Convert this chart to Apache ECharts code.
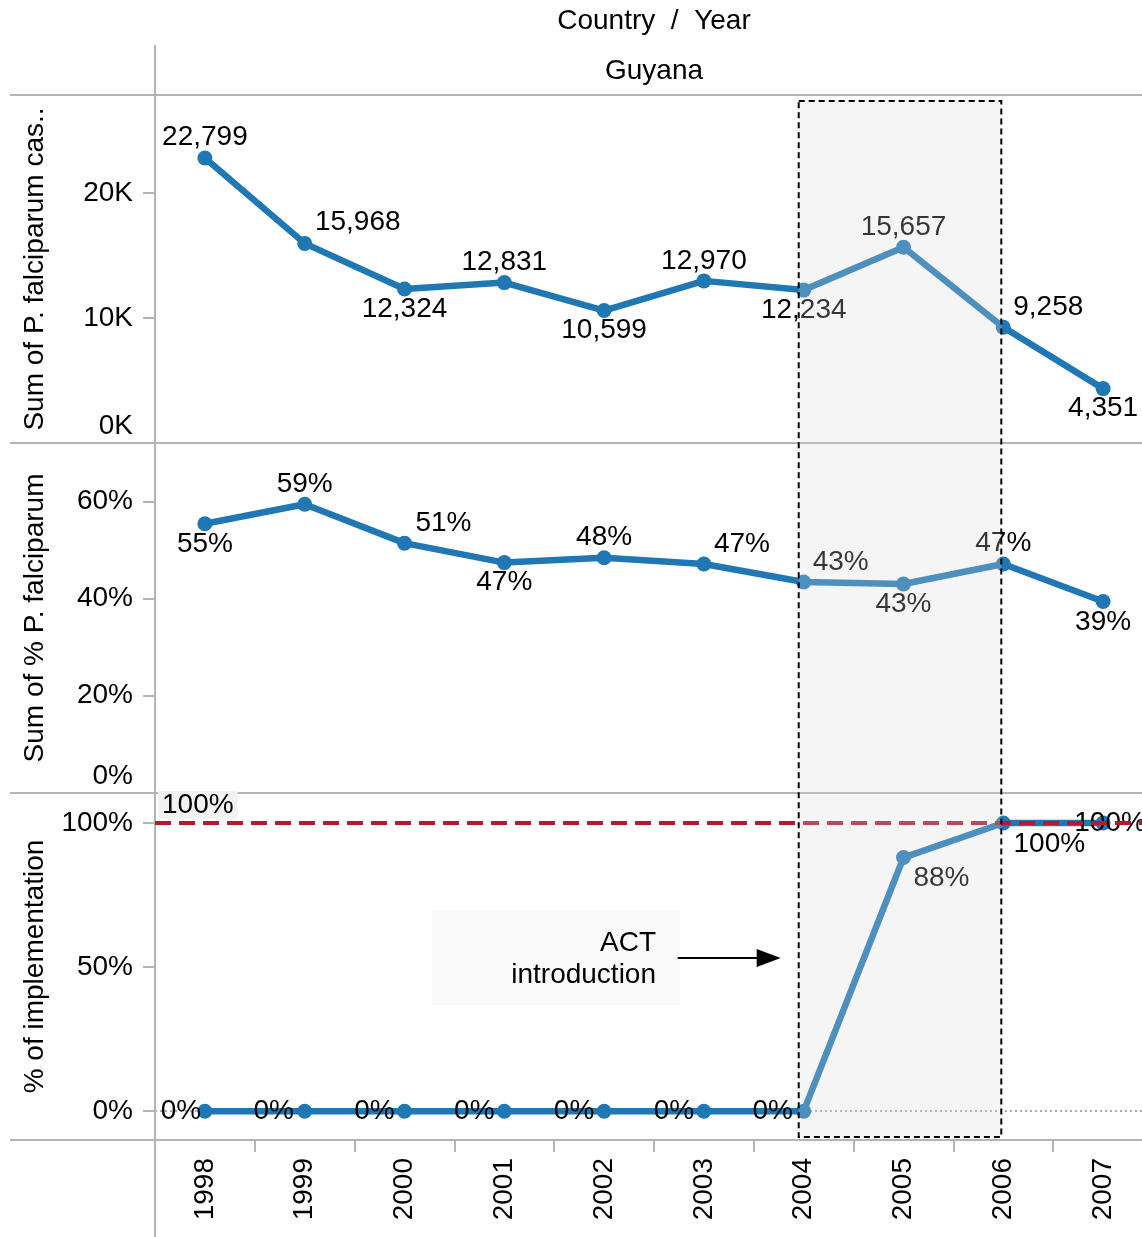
<!DOCTYPE html>
<html>
<head>
<meta charset="utf-8">
<script src="https://cdn.jsdelivr.net/npm/echarts@6/dist/echarts.min.js"></script>
<style>
html, body { margin: 0; padding: 0; background: #fff; }
#main { width: 1142px; height: 1237px; }
</style>
</head>
<body>
<div id="main"></div>
<script>
// 数据
var years = ['1998', '1999', '2000', '2001', '2002', '2003', '2004', '2005', '2006', '2007'];
var pfCases = [22799, 15968, 12324, 12831, 10599, 12970, 12234, 15657, 9258, 4351];
var pfPercent = [55.4, 59.4, 51.4, 47.4, 48.4, 47.1, 43.4, 43.0, 47.1, 39.4];
var implementation = [0, 0, 0, 0, 0, 0, 0, 88, 100, 100];
var casesTicks = [0, 10000, 20000];
var percentTicks = [0, 20, 40, 60];
var implTicks = [0, 50, 100];

// 标签偏移 (样式)
var casesLabelOffset = [[0, -21], [53, -21], [0, 20], [0, -20], [0, 20], [0, -20], [0, 20], [0, -20], [45, -20], [0, 20]];
var percentLabelOffset = [[0, 21], [0, -20], [39, -20], [0, 20], [0, -20], [38, -20], [37, -20], [0, 20], [0, -21], [0, 21]];
var implLabelOffset = [[-24, 0], [-31, 0], [-30, 0], [-30, 0], [-30, 0], [-30, 0], [-31, 0], [38, 21], [46, 21], [7, 0]];

var FONT = "'Liberation Sans', Arial, sans-serif";
var FS = 28;
var BLUE = '#1f77b4';
var GRAY = '#b4b4b4';

var mainObj = document.getElementById('main');
var chart = echarts.init(mainObj);

function withLabels(values, offsets) {
    return values.map(function (v, i) {
        return { value: v, label: { offset: offsets[i] } };
    });
}

function makeXAxis(idx, show) {
    return {
        gridIndex: idx,
        type: 'category',
        data: years,
        boundaryGap: true,
        show: show,
        axisLine: { show: false, onZero: false },
        axisTick: {
            show: true,
            length: 12,
            lineStyle: { color: GRAY, width: 2 }
        },
        axisLabel: {
            rotate: 90,
            margin: 18,
            fontSize: FS,
            color: '#000',
            fontFamily: FONT
        },
        splitLine: { show: false }
    };
}

function makeYAxis(idx, min, max, ticks, name, fmt) {
    return {
        gridIndex: idx,
        type: 'value',
        min: min,
        max: max,
        name: name,
        nameLocation: 'middle',
        nameRotate: 90,
        nameGap: 106,
        nameTextStyle: { fontSize: FS, color: '#000', fontFamily: FONT },
        axisLine: { show: false },
        axisTick: {
            show: true,
            length: 12,
            customValues: ticks,
            lineStyle: { color: GRAY, width: 2 }
        },
        axisLabel: {
            customValues: ticks,
            formatter: fmt,
            margin: 22,
            fontSize: FS,
            color: '#000',
            fontFamily: FONT,
            lineHeight: 33
        },
        splitLine: { show: false }
    };
}

var lineBase = {
    type: 'line',
    symbol: 'circle',
    symbolSize: 15,
    lineStyle: { color: BLUE, width: 6.5 },
    itemStyle: { color: BLUE },
    label: {
        show: true,
        position: 'inside',
        fontSize: FS,
        color: '#000',
        fontFamily: FONT
    },
    emphasis: { disabled: true },
    animation: false
};

var option = {
    animation: false,
    textStyle: { fontFamily: FONT },
    grid: [
        { left: 155, top: 95, right: -11, height: 348, outerBoundsMode: 'none' },
        { left: 155, top: 443, right: -11, height: 350, outerBoundsMode: 'none' },
        { left: 155, top: 793, right: -11, height: 347, outerBoundsMode: 'none' }
    ],
    xAxis: [makeXAxis(0, false), makeXAxis(1, false), makeXAxis(2, true)],
    yAxis: [
        makeYAxis(0, 0, 27840, casesTicks, 'Sum of P. falciparum cas..', function (v) {
            return v === 0 ? '0K\n' : (v / 1000) + 'K';
        }),
        makeYAxis(1, 0, 72, percentTicks, 'Sum of % P. falciparum', function (v) {
            return v === 0 ? '0%\n' : v + '%';
        }),
        makeYAxis(2, -10, 110.4, implTicks, '% of implementation', function (v) {
            return v + '%';
        })
    ],
    series: [
        echarts.util.merge({
            name: 'cases',
            xAxisIndex: 0,
            yAxisIndex: 0,
            data: withLabels(pfCases, casesLabelOffset),
            label: {
                formatter: function (p) {
                    return p.value.toLocaleString('en-US');
                }
            }
        }, lineBase),
        echarts.util.merge({
            name: 'percent',
            xAxisIndex: 1,
            yAxisIndex: 1,
            data: withLabels(pfPercent, percentLabelOffset),
            label: {
                formatter: function (p) {
                    return Math.round(p.value) + '%';
                }
            }
        }, lineBase),
        echarts.util.merge({
            name: 'implementation',
            xAxisIndex: 2,
            yAxisIndex: 2,
            z: 2,
            data: withLabels(implementation, implLabelOffset),
            label: {
                formatter: function (p) {
                    return Math.round(p.value) + '%';
                }
            },
            markLine: {
                silent: true,
                symbol: 'none',
                z: 1,
                animation: false,
                data: [{
                    yAxis: 0,
                    lineStyle: { color: '#aaaaaa', type: [2, 3], width: 2 },
                    label: { show: false }
                }]
            }
        }, lineBase),
        {
            name: 'target',
            type: 'line',
            xAxisIndex: 2,
            yAxisIndex: 2,
            data: [],
            z: 5,
            markLine: {
                silent: true,
                symbol: 'none',
                animation: false,
                data: [{
                    yAxis: 100,
                    lineStyle: { color: '#b5192b', type: [16, 8], width: 4 },
                    label: {
                        show: true,
                        position: 'insideStartTop',
                        formatter: '100%',
                        distance: [3, 4],
                        fontSize: FS,
                        color: '#000',
                        fontFamily: FONT,
                        backgroundColor: '#f2f2f2',
                        padding: [0, 4, 0, 4]
                    }
                }]
            }
        }
    ]
};

chart.setOption(option);

// 注释图形
var x04 = chart.convertToPixel({ xAxisIndex: 2 }, '2004');
var x06 = chart.convertToPixel({ xAxisIndex: 2 }, '2006');
var rectLeft = x04 - 5;
var rectRight = x06 - 2;

chart.setOption({
    graphic: [
        // 表格边框
        { type: 'line', shape: { x1: 10, y1: 95, x2: 1142, y2: 95 }, style: { stroke: GRAY, lineWidth: 2 }, z: 1 },
        { type: 'line', shape: { x1: 10, y1: 443, x2: 1142, y2: 443 }, style: { stroke: GRAY, lineWidth: 2 }, z: 1 },
        { type: 'line', shape: { x1: 10, y1: 793, x2: 1142, y2: 793 }, style: { stroke: GRAY, lineWidth: 2 }, z: 1 },
        { type: 'line', shape: { x1: 10, y1: 1140, x2: 1142, y2: 1140 }, style: { stroke: GRAY, lineWidth: 2 }, z: 1 },
        { type: 'line', shape: { x1: 155, y1: 45, x2: 155, y2: 1237 }, style: { stroke: GRAY, lineWidth: 2 }, z: 1 },
        // 表头
        {
            type: 'text', x: 654, y: 21, z: 10,
            style: { text: 'Country  /  Year', fontSize: FS, fontFamily: FONT, fill: '#000', align: 'center', verticalAlign: 'middle' }
        },
        {
            type: 'text', x: 654, y: 71, z: 10,
            style: { text: 'Guyana', fontSize: FS, fontFamily: FONT, fill: '#000', align: 'center', verticalAlign: 'middle' }
        },
        // ACT 注释
        {
            type: 'rect', z: 3,
            shape: { x: 432, y: 910, width: 248, height: 95 },
            style: { fill: '#fafafa' }
        },
        {
            type: 'text', x: 656, y: 959, z: 10,
            style: { text: 'ACT\nintroduction', fontSize: FS, fontFamily: FONT, fill: '#000', align: 'right', verticalAlign: 'middle', lineHeight: 32 }
        },
        {
            type: 'line', z: 10,
            shape: { x1: rectLeft - 121, y1: 958, x2: rectLeft - 36, y2: 958 },
            style: { stroke: '#000', lineWidth: 2 }
        },
        {
            type: 'polygon', z: 10,
            shape: { points: [[rectLeft - 42, 949], [rectLeft - 18, 958], [rectLeft - 42, 967]] },
            style: { fill: '#000' }
        },
        // 高亮区域
        {
            type: 'rect', z: 20,
            shape: { x: rectLeft, y: 101, width: rectRight - rectLeft, height: 1036 },
            style: { fill: 'rgba(215,215,215,0.25)', stroke: '#000', lineWidth: 2, lineDash: [6, 4] }
        }
    ]
});
</script>
</body>
</html>
